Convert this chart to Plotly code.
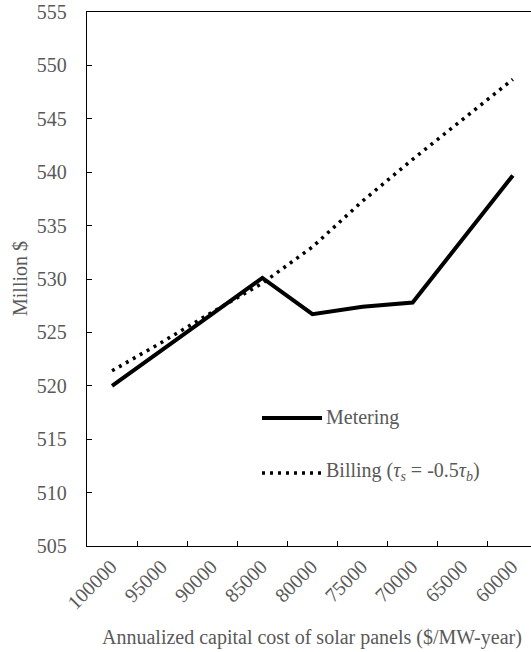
import plotly.graph_objects as go

# Annualized capital cost of solar panels ($/MW-year)
cost_labels = ["100000", "95000", "90000", "85000", "80000",
               "75000", "70000", "65000", "60000"]

# Total cost (million $)
metering = [520.0, 523.4, 526.8, 530.1, 526.7, 527.4, 527.8, 533.7, 539.7]
billing = [521.4, 524.1, 526.9, 529.6, 533.0, 537.3, 541.2, 544.9, 548.7]

y_ticks = [505, 510, 515, 520, 525, 530, 535, 540, 545, 550, 555]

FONT = "Liberation Serif"
GREY = "#595959"
FS = 20
W, H = 531, 652
L, R, T, B = 87, 0, 12, 106
PW, PH = W - L - R, H - T - B


def px_x(x):
    return (x - L) / PW


def px_y(y):
    return (H - B - y) / PH


fig = go.Figure()
fig.add_trace(go.Scatter(
    x=cost_labels, y=metering, mode="lines", name="Metering",
    line=dict(color="black", width=4), showlegend=False))
fig.add_trace(go.Scatter(
    x=cost_labels, y=billing, mode="lines", name="Billing",
    line=dict(color="black", width=3.5, dash="3px,5px"), showlegend=False))

# Legend drawn inside the plot area
fig.add_shape(type="line", xref="paper", yref="paper",
              x0=px_x(262), x1=px_x(322), y0=px_y(418), y1=px_y(418),
              line=dict(color="black", width=4))
fig.add_shape(type="line", xref="paper", yref="paper",
              x0=px_x(262), x1=px_x(321), y0=px_y(473), y1=px_y(473),
              line=dict(color="black", width=3.5, dash="3px,5px"))
fig.add_annotation(xref="paper", yref="paper", x=px_x(324), y=px_y(417),
                   xanchor="left", yanchor="middle", showarrow=False,
                   text="Metering", font=dict(family=FONT, size=FS, color=GREY))
fig.add_annotation(xref="paper", yref="paper", x=px_x(324), y=px_y(471),
                   xanchor="left", yanchor="middle", showarrow=False,
                   text="Billing (<i>τ</i><sub><i>s</i></sub> = -0.5<i>τ</i><sub><i>b</i></sub>)",
                   font=dict(family=FONT, size=FS, color=GREY))

# Axis titles
fig.add_annotation(xref="paper", yref="paper", x=px_x(312), y=px_y(637),
                   xanchor="center", yanchor="middle", showarrow=False,
                   text="Annualized capital cost of solar panels ($/MW-year)",
                   font=dict(family=FONT, size=FS, color=GREY))
fig.add_annotation(xref="paper", yref="paper", x=px_x(20), y=0.5,
                   xanchor="center", yanchor="middle", showarrow=False,
                   textangle=-90, text="Million $",
                   font=dict(family=FONT, size=FS, color=GREY))

fig.update_layout(
    width=W, height=H,
    margin=dict(l=L, r=R, t=T, b=B, pad=0),
    paper_bgcolor="white", plot_bgcolor="white",
    font=dict(family=FONT, size=FS, color=GREY),
)
fig.update_xaxes(
    type="category", range=[-0.5, -0.5 + PW / 50.1],
    tickson="boundaries", ticks="inside", ticklen=5, tickwidth=1.2,
    tickcolor="black", tickangle=-45, ticklabelshift=-1,
    showline=True, linecolor="black", linewidth=1.3, mirror=True,
    showgrid=False, zeroline=False,
    tickfont=dict(family=FONT, size=FS, color=GREY),
)
fig.update_yaxes(
    range=[505, 555], tickvals=y_ticks, ticks="inside", ticklen=5,
    tickwidth=1.2, tickcolor="black", ticklabelstandoff=15,
    showline=True, linecolor="black", linewidth=1.3,
    showgrid=False, zeroline=False,
    tickfont=dict(family=FONT, size=FS, color=GREY),
)

fig.write_html("out.html")
